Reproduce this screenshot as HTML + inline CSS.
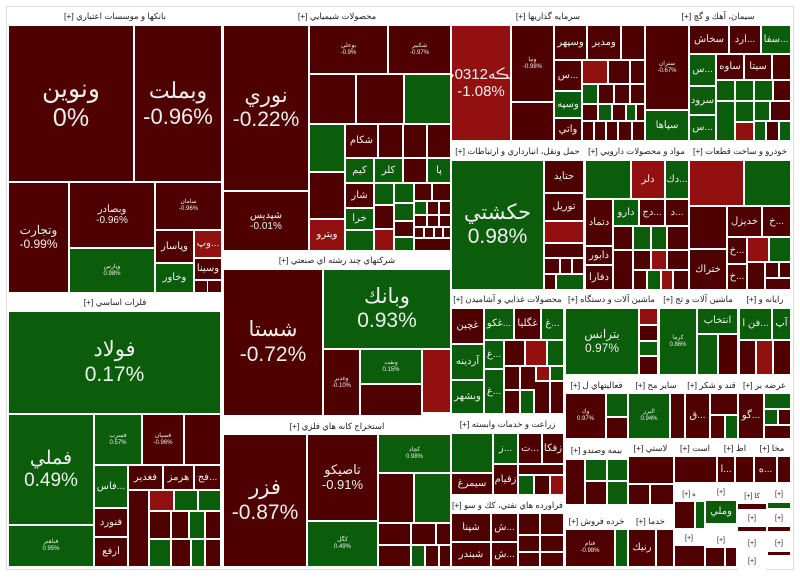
<!DOCTYPE html>
<html><head><meta charset="utf-8"><style>
body{margin:0;width:800px;height:579px;background:#fff;position:relative;overflow:hidden;font-family:"Liberation Sans","Noto Sans CJK SC",sans-serif}
.t{position:absolute;box-sizing:border-box;display:flex;flex-direction:column;align-items:center;justify-content:center;color:#eee;text-align:center;line-height:1.15;overflow:hidden;white-space:nowrap}
.r{background:#4f0000}.g{background:#0b5c0b}.b{background:#931010}
.h{position:absolute;background:#fff;color:#222;font-size:8.5px;text-align:center;line-height:17px;white-space:nowrap;overflow:hidden;direction:rtl;text-overflow:clip}
.L{font-size:25px}.M{font-size:15px}.S{font-size:10px}.X{font-size:6px}
.fr{position:absolute;border:1px solid #ddd;box-sizing:border-box}
</style></head><body>
<div class="fr" style="left:6px;top:6px;width:788px;height:564px"></div>
<!-- banks -->
<div class="h" style="left:8px;top:8px;width:214px">بانكها و موسسات اعتباري [+]</div>
<div class="t r L" style="left:9px;top:26px;width:124px;height:155px">ونوين<br>0%</div>
<div class="t r L" style="left:135px;top:26px;width:86px;height:155px;font-size:22px">وبملت<br>-0.96%</div>
<div class="t r S" style="left:9px;top:183px;width:59px;height:109px;font-size:12px">وتجارت<br>-0.99%</div>
<div class="t r S" style="left:70px;top:183px;width:84px;height:64px">وبصادر<br>-0.96%</div>
<div class="t g X" style="left:70px;top:249px;width:84px;height:43px">ويارس<br>0.98%</div>
<div class="t r X" style="left:156px;top:183px;width:65px;height:46px">سامان<br>-0.96%</div>
<div class="t r S" style="left:156px;top:231px;width:37px;height:31px">وپاسار</div>
<div class="t g S" style="left:156px;top:264px;width:37px;height:28px">وخاور</div>
<div class="t b S" style="left:195px;top:231px;width:26px;height:26px">وپ...</div>
<div class="t r S" style="left:195px;top:259px;width:26px;height:20px">وسينا</div>
<div class="t r" style="left:195px;top:281px;width:12px;height:11px"></div>
<div class="t r" style="left:208px;top:281px;width:13px;height:11px"></div>
<!-- chemicals -->
<div class="h" style="left:224px;top:8px;width:226px">محصولات شيميايي [+]</div>
<div class="t r L" style="left:224px;top:26px;width:84px;height:164px;font-size:21px">نوري<br>-0.22%</div>
<div class="t r S" style="left:224px;top:192px;width:84px;height:58px">شپديس<br>-0.01%</div>
<div class="t r X" style="left:310px;top:26px;width:77px;height:47px">بوعلي<br>-0.9%</div>
<div class="t r X" style="left:389px;top:26px;width:61px;height:47px">شكبير<br>-0.97%</div>
<div class="t r X" style="left:310px;top:75px;width:45px;height:48px"></div>
<div class="t r X" style="left:357px;top:75px;width:46px;height:48px"></div>
<div class="t g X" style="left:405px;top:75px;width:45px;height:48px"></div>
<div class="t g" style="left:310px;top:125px;width:34px;height:46px"></div>
<div class="t r S" style="left:346px;top:125px;width:31px;height:32px">شكام</div>
<div class="t r" style="left:379px;top:125px;width:23px;height:32px"></div>
<div class="t r" style="left:404px;top:125px;width:22px;height:32px"></div>
<div class="t r" style="left:428px;top:125px;width:22px;height:32px"></div>
<div class="t g S" style="left:346px;top:159px;width:27px;height:23px">كيم</div>
<div class="t g S" style="left:375px;top:159px;width:27px;height:23px">كلر</div>
<div class="t r" style="left:404px;top:159px;width:22px;height:23px"></div>
<div class="t g S" style="left:428px;top:159px;width:22px;height:23px">پا</div>
<div class="t r" style="left:310px;top:173px;width:34px;height:45px"></div>
<div class="t r S" style="left:346px;top:184px;width:27px;height:23px">شار</div>
<div class="t g S" style="left:346px;top:209px;width:27px;height:20px">خرا</div>
<div class="t g" style="left:346px;top:231px;width:27px;height:19px"></div>
<div class="t b S" style="left:310px;top:220px;width:34px;height:30px">ويترو</div>
<div class="t g" style="left:375px;top:184px;width:18px;height:20px"></div>
<div class="t r" style="left:375px;top:206px;width:18px;height:22px"></div>
<div class="t b" style="left:375px;top:230px;width:18px;height:20px"></div>
<div class="t g" style="left:395px;top:184px;width:18px;height:18px"></div>
<div class="t g" style="left:395px;top:204px;width:18px;height:16px"></div>
<div class="t r" style="left:395px;top:222px;width:18px;height:14px"></div>
<div class="t g" style="left:395px;top:238px;width:18px;height:12px"></div>
<div class="t r" style="left:415px;top:184px;width:16px;height:16px"></div>
<div class="t r" style="left:433px;top:184px;width:17px;height:16px"></div>
<div class="t g" style="left:415px;top:202px;width:11px;height:12px"></div>
<div class="t r" style="left:428px;top:202px;width:10px;height:12px"></div>
<div class="t r" style="left:440px;top:202px;width:10px;height:12px"></div>
<div class="t r" style="left:415px;top:216px;width:11px;height:10px"></div>
<div class="t r" style="left:428px;top:216px;width:10px;height:10px"></div>
<div class="t r" style="left:440px;top:216px;width:10px;height:10px"></div>
<div class="t r" style="left:415px;top:228px;width:8px;height:9px"></div>
<div class="t r" style="left:425px;top:228px;width:8px;height:9px"></div>
<div class="t r" style="left:435px;top:228px;width:7px;height:9px"></div>
<div class="t r" style="left:444px;top:228px;width:6px;height:9px"></div>
<div class="t r" style="left:415px;top:239px;width:35px;height:11px"></div>
<!-- multi -->
<div class="h" style="left:224px;top:252px;width:226px">شركتهاي چند رشته اي صنعتي [+]</div>
<div class="t r L" style="left:224px;top:270px;width:98px;height:145px;font-size:21px">شستا<br>-0.72%</div>
<div class="t g L" style="left:324px;top:270px;width:126px;height:78px;font-size:21px">وبانك<br>0.93%</div>
<div class="t r X" style="left:324px;top:350px;width:35px;height:65px">وغدير<br>-0.10%</div>
<div class="t g X" style="left:361px;top:350px;width:60px;height:33px">ونفت<br>0.15%</div>
<div class="t r X" style="left:361px;top:385px;width:60px;height:30px"></div>
<div class="t b X" style="left:423px;top:350px;width:27px;height:62px"></div>
<!-- metals -->
<div class="h" style="left:8px;top:294px;width:214px">فلزات اساسي [+]</div>
<div class="t g L" style="left:9px;top:312px;width:211px;height:101px;font-size:21px">فولاد<br>0.17%</div>
<div class="t g L" style="left:9px;top:415px;width:84px;height:109px;font-size:19px">فملي<br>0.49%</div>
<div class="t g X" style="left:9px;top:526px;width:84px;height:40px">فباهنر<br>0.95%</div>
<div class="t g X" style="left:95px;top:415px;width:46px;height:49px">فسرب<br>0.57%</div>
<div class="t r X" style="left:143px;top:415px;width:40px;height:49px">فسپان<br>-0.96%</div>
<div class="t r X" style="left:185px;top:415px;width:35px;height:49px"></div>
<div class="t g S" style="left:95px;top:466px;width:32px;height:41px">فاس...</div>
<div class="t r S" style="left:129px;top:466px;width:33px;height:23px">فغدير</div>
<div class="t r S" style="left:164px;top:466px;width:29px;height:23px">هرمز</div>
<div class="t r S" style="left:195px;top:466px;width:25px;height:23px">فج...</div>
<div class="t r S" style="left:95px;top:509px;width:32px;height:27px">فنورد</div>
<div class="t r S" style="left:95px;top:538px;width:32px;height:28px">ارفع</div>
<div class="t r" style="left:129px;top:491px;width:19px;height:75px"></div>
<div class="t b" style="left:150px;top:491px;width:23px;height:19px"></div>
<div class="t g" style="left:175px;top:491px;width:22px;height:19px"></div>
<div class="t g" style="left:199px;top:491px;width:21px;height:19px"></div>
<div class="t r" style="left:150px;top:512px;width:20px;height:26px"></div>
<div class="t r" style="left:172px;top:512px;width:16px;height:26px"></div>
<div class="t g" style="left:190px;top:512px;width:14px;height:26px"></div>
<div class="t r" style="left:206px;top:512px;width:14px;height:26px"></div>
<div class="t g" style="left:150px;top:540px;width:20px;height:26px"></div>
<div class="t r" style="left:172px;top:540px;width:18px;height:26px"></div>
<div class="t g" style="left:192px;top:540px;width:12px;height:26px"></div>
<div class="t r" style="left:206px;top:540px;width:14px;height:26px"></div>
<!-- mining -->
<div class="h" style="left:224px;top:418px;width:226px">استخراج كانه هاي فلزي [+]</div>
<div class="t r L" style="left:224px;top:435px;width:82px;height:131px;font-size:21px">فزر<br>-0.87%</div>
<div class="t r M" style="left:308px;top:435px;width:69px;height:85px;font-size:13px">تاصيكو<br>-0.91%</div>
<div class="t g X" style="left:308px;top:522px;width:69px;height:44px">كگل<br>0.49%</div>
<div class="t g X" style="left:379px;top:435px;width:71px;height:37px">كچاد<br>0.98%</div>
<div class="t r X" style="left:379px;top:474px;width:34px;height:48px"></div>
<div class="t g X" style="left:415px;top:474px;width:35px;height:48px"></div>
<div class="t r" style="left:379px;top:524px;width:31px;height:20px"></div>
<div class="t r" style="left:412px;top:524px;width:23px;height:20px"></div>
<div class="t r" style="left:437px;top:524px;width:13px;height:20px"></div>
<div class="t r" style="left:379px;top:546px;width:31px;height:20px"></div>
<div class="t g" style="left:412px;top:546px;width:12px;height:20px"></div>
<div class="t r" style="left:426px;top:546px;width:12px;height:20px"></div>
<div class="t r" style="left:440px;top:546px;width:10px;height:20px"></div>
<!-- investment -->
<div class="h" style="left:452px;top:8px;width:192px">سرمايه گذاريها [+]</div>
<div class="t b M" style="left:452px;top:26px;width:58px;height:114px">سڪه0312پ<br>-1.08%</div>
<div class="t r X" style="left:512px;top:26px;width:41px;height:75px">ونيا<br>-0.98%</div>
<div class="t r X" style="left:512px;top:103px;width:41px;height:37px"></div>
<div class="t r S" style="left:555px;top:26px;width:31px;height:33px">وسپهر</div>
<div class="t r S" style="left:588px;top:26px;width:32px;height:33px">ومدير</div>
<div class="t r" style="left:622px;top:26px;width:22px;height:33px"></div>
<div class="t r S" style="left:555px;top:61px;width:26px;height:29px">س...</div>
<div class="t b" style="left:583px;top:61px;width:24px;height:22px"></div>
<div class="t r" style="left:609px;top:61px;width:20px;height:22px"></div>
<div class="t r" style="left:631px;top:61px;width:13px;height:22px"></div>
<div class="t g S" style="left:555px;top:92px;width:26px;height:25px">وسپه</div>
<div class="t r S" style="left:555px;top:119px;width:26px;height:21px">واتي</div>
<div class="t g" style="left:583px;top:85px;width:14px;height:18px"></div>
<div class="t r" style="left:599px;top:85px;width:14px;height:18px"></div>
<div class="t r" style="left:615px;top:85px;width:14px;height:18px"></div>
<div class="t r" style="left:631px;top:85px;width:13px;height:18px"></div>
<div class="t r" style="left:583px;top:105px;width:14px;height:15px"></div>
<div class="t g" style="left:599px;top:105px;width:12px;height:15px"></div>
<div class="t r" style="left:613px;top:105px;width:12px;height:15px"></div>
<div class="t g" style="left:627px;top:105px;width:8px;height:15px"></div>
<div class="t r" style="left:637px;top:105px;width:7px;height:15px"></div>
<div class="t r" style="left:583px;top:122px;width:10px;height:18px"></div>
<div class="t r" style="left:595px;top:122px;width:10px;height:18px"></div>
<div class="t r" style="left:607px;top:122px;width:10px;height:18px"></div>
<div class="t r" style="left:619px;top:122px;width:12px;height:18px"></div>
<div class="t r" style="left:633px;top:122px;width:11px;height:18px"></div>
<!-- cement -->
<div class="h" style="left:646px;top:8px;width:144px">سيمان، آهك و گچ [+]</div>
<div class="t r X" style="left:646px;top:26px;width:42px;height:83px">ستران<br>-0.67%</div>
<div class="t g S" style="left:646px;top:111px;width:42px;height:29px">سپاها</div>
<div class="t r S" style="left:690px;top:26px;width:38px;height:27px">سخاش</div>
<div class="t r S" style="left:730px;top:26px;width:30px;height:27px">ارد...</div>
<div class="t g S" style="left:762px;top:26px;width:28px;height:27px">سفا...</div>
<div class="t g S" style="left:690px;top:55px;width:25px;height:30px">س...</div>
<div class="t g S" style="left:690px;top:87px;width:25px;height:27px">سرود</div>
<div class="t g S" style="left:690px;top:116px;width:25px;height:24px">س...</div>
<div class="t r S" style="left:717px;top:55px;width:26px;height:24px">ساوه</div>
<div class="t r S" style="left:745px;top:55px;width:26px;height:24px">سيتا</div>
<div class="t r" style="left:773px;top:55px;width:17px;height:24px"></div>
<div class="t g" style="left:717px;top:81px;width:17px;height:19px"></div>
<div class="t g" style="left:736px;top:81px;width:17px;height:19px"></div>
<div class="t g" style="left:755px;top:81px;width:17px;height:19px"></div>
<div class="t r" style="left:774px;top:81px;width:16px;height:19px"></div>
<div class="t g" style="left:717px;top:102px;width:17px;height:38px"></div>
<div class="t g" style="left:736px;top:102px;width:17px;height:19px"></div>
<div class="t b" style="left:736px;top:123px;width:17px;height:17px"></div>
<div class="t g" style="left:755px;top:102px;width:14px;height:18px"></div>
<div class="t r" style="left:771px;top:102px;width:19px;height:18px"></div>
<div class="t g" style="left:755px;top:122px;width:10px;height:18px"></div>
<div class="t r" style="left:767px;top:122px;width:11px;height:18px"></div>
<div class="t g" style="left:780px;top:122px;width:10px;height:18px"></div>
<!-- transport -->
<div class="h" style="left:452px;top:143px;width:131px">حمل ونقل، انبارداري و ارتباطات [+]</div>
<div class="t g L" style="left:452px;top:161px;width:91px;height:128px;font-size:21px">حكشتي<br>0.98%</div>
<div class="t r S" style="left:545px;top:161px;width:38px;height:31px">حتايد</div>
<div class="t r S" style="left:545px;top:194px;width:38px;height:26px">توريل</div>
<div class="t b" style="left:545px;top:222px;width:38px;height:20px"></div>
<div class="t r" style="left:545px;top:244px;width:38px;height:13px"></div>
<div class="t r" style="left:545px;top:259px;width:14px;height:14px"></div>
<div class="t r" style="left:561px;top:259px;width:10px;height:14px"></div>
<div class="t r" style="left:573px;top:259px;width:10px;height:14px"></div>
<div class="t r" style="left:545px;top:275px;width:10px;height:14px"></div>
<div class="t g" style="left:557px;top:275px;width:26px;height:14px"></div>
<!-- pharma -->
<div class="h" style="left:585px;top:143px;width:103px">مواد و محصولات دارويي [+]</div>
<div class="t g X" style="left:586px;top:161px;width:44px;height:37px"></div>
<div class="t b S" style="left:632px;top:161px;width:32px;height:37px">دلر</div>
<div class="t g S" style="left:666px;top:161px;width:22px;height:37px">دك...</div>
<div class="t r S" style="left:586px;top:200px;width:26px;height:45px">دتماد</div>
<div class="t g S" style="left:614px;top:200px;width:24px;height:25px">دارو</div>
<div class="t r S" style="left:640px;top:200px;width:24px;height:25px">دج...</div>
<div class="t r S" style="left:666px;top:200px;width:22px;height:25px">د...</div>
<div class="t r S" style="left:586px;top:247px;width:26px;height:17px">دابور</div>
<div class="t r S" style="left:586px;top:266px;width:26px;height:23px">دفارا</div>
<div class="t r" style="left:614px;top:227px;width:18px;height:22px"></div>
<div class="t g" style="left:634px;top:227px;width:16px;height:22px"></div>
<div class="t g" style="left:652px;top:227px;width:14px;height:22px"></div>
<div class="t r" style="left:668px;top:227px;width:20px;height:22px"></div>
<div class="t r" style="left:614px;top:251px;width:18px;height:38px"></div>
<div class="t r" style="left:634px;top:251px;width:16px;height:18px"></div>
<div class="t b" style="left:652px;top:251px;width:14px;height:18px"></div>
<div class="t r" style="left:668px;top:251px;width:20px;height:18px"></div>
<div class="t r" style="left:634px;top:271px;width:12px;height:18px"></div>
<div class="t g" style="left:648px;top:271px;width:12px;height:18px"></div>
<div class="t b" style="left:662px;top:271px;width:10px;height:18px"></div>
<div class="t r" style="left:674px;top:271px;width:14px;height:18px"></div>
<!-- auto -->
<div class="h" style="left:690px;top:143px;width:100px">خودرو و ساخت قطعات [+]</div>
<div class="t b X" style="left:690px;top:161px;width:53px;height:44px"></div>
<div class="t g X" style="left:745px;top:161px;width:45px;height:44px"></div>
<div class="t r X" style="left:690px;top:207px;width:36px;height:41px"></div>
<div class="t r S" style="left:690px;top:250px;width:36px;height:39px">ختراك</div>
<div class="t r S" style="left:728px;top:207px;width:33px;height:29px">خديزل</div>
<div class="t r S" style="left:763px;top:207px;width:27px;height:29px">خ...</div>
<div class="t r S" style="left:728px;top:238px;width:18px;height:25px">خ...</div>
<div class="t r S" style="left:728px;top:265px;width:18px;height:24px">خ...</div>
<div class="t b" style="left:748px;top:238px;width:20px;height:23px"></div>
<div class="t g" style="left:770px;top:238px;width:20px;height:23px"></div>
<div class="t r" style="left:748px;top:263px;width:16px;height:26px"></div>
<div class="t r" style="left:766px;top:263px;width:12px;height:14px"></div>
<div class="t r" style="left:780px;top:263px;width:10px;height:14px"></div>
<div class="t r" style="left:766px;top:279px;width:24px;height:10px"></div>
<!-- food -->
<div class="h" style="left:452px;top:291px;width:111px">محصولات غذايي و آشاميدن [+]</div>
<div class="t r S" style="left:452px;top:309px;width:31px;height:34px">غچين</div>
<div class="t g S" style="left:452px;top:345px;width:31px;height:34px">آردينه</div>
<div class="t g S" style="left:452px;top:381px;width:31px;height:32px">وبشهر</div>
<div class="t g S" style="left:485px;top:309px;width:28px;height:30px">غكو...</div>
<div class="t r S" style="left:515px;top:309px;width:25px;height:30px">غگليا</div>
<div class="t g S" style="left:542px;top:309px;width:21px;height:30px">غ...</div>
<div class="t g S" style="left:485px;top:341px;width:18px;height:27px">غ...</div>
<div class="t g S" style="left:485px;top:370px;width:18px;height:43px">غ...</div>
<div class="t r" style="left:505px;top:341px;width:19px;height:24px"></div>
<div class="t b" style="left:526px;top:341px;width:20px;height:24px"></div>
<div class="t g" style="left:548px;top:341px;width:15px;height:24px"></div>
<div class="t r" style="left:505px;top:367px;width:14px;height:22px"></div>
<div class="t r" style="left:521px;top:367px;width:14px;height:22px"></div>
<div class="t b" style="left:537px;top:367px;width:12px;height:13px"></div>
<div class="t g" style="left:551px;top:367px;width:12px;height:13px"></div>
<div class="t r" style="left:505px;top:391px;width:14px;height:22px"></div>
<div class="t g" style="left:521px;top:391px;width:12px;height:22px"></div>
<div class="t r" style="left:535px;top:382px;width:14px;height:31px"></div>
<div class="t r" style="left:551px;top:382px;width:12px;height:31px"></div>
<!-- machinery -->
<div class="h" style="left:566px;top:291px;width:91px">ماشين آلات و دستگاه [+]</div>
<div class="t g M" style="left:566px;top:309px;width:72px;height:65px;font-size:12px">بترانس<br>0.97%</div>
<div class="t b" style="left:640px;top:309px;width:17px;height:15px"></div>
<div class="t r" style="left:640px;top:326px;width:17px;height:14px"></div>
<div class="t g" style="left:640px;top:342px;width:17px;height:13px"></div>
<div class="t r" style="left:640px;top:357px;width:17px;height:17px"></div>
<div class="h" style="left:659px;top:291px;width:78px">ماشين آلات و تج [+]</div>
<div class="t g X" style="left:660px;top:309px;width:36px;height:65px">كرما<br>0.86%</div>
<div class="t g S" style="left:698px;top:309px;width:39px;height:24px">انتخاب</div>
<div class="t g" style="left:698px;top:335px;width:19px;height:39px"></div>
<div class="t r" style="left:719px;top:335px;width:18px;height:39px"></div>
<div class="h" style="left:740px;top:291px;width:50px">رايانه و [+]</div>
<div class="t g S" style="left:740px;top:309px;width:31px;height:30px">فن ا...</div>
<div class="t g S" style="left:773px;top:309px;width:17px;height:30px">آپ</div>
<div class="t r" style="left:740px;top:341px;width:15px;height:33px"></div>
<div class="t b" style="left:757px;top:341px;width:15px;height:33px"></div>
<div class="t r" style="left:774px;top:341px;width:16px;height:33px"></div>
<!-- row 2 small -->
<div class="h" style="left:566px;top:377px;width:61px">فعاليتهاي ل [+]</div>
<div class="t r X" style="left:566px;top:394px;width:39px;height:44px">وك<br>0.97%</div>
<div class="t g" style="left:607px;top:394px;width:20px;height:22px"></div>
<div class="t r" style="left:607px;top:418px;width:20px;height:20px"></div>
<div class="h" style="left:628px;top:377px;width:56px">ساير مح [+]</div>
<div class="t g X" style="left:629px;top:394px;width:40px;height:44px">البرز<br>0.94%</div>
<div class="t r" style="left:671px;top:394px;width:13px;height:44px"></div>
<div class="h" style="left:686px;top:377px;width:51px">قند و شكر [+]</div>
<div class="t r S" style="left:686px;top:394px;width:23px;height:44px">ق...</div>
<div class="t r" style="left:711px;top:394px;width:26px;height:20px"></div>
<div class="t r" style="left:711px;top:416px;width:13px;height:22px"></div>
<div class="t g" style="left:726px;top:416px;width:11px;height:22px"></div>
<div class="h" style="left:739px;top:377px;width:51px">عرضه بر [+]</div>
<div class="t r S" style="left:739px;top:394px;width:24px;height:44px">گو...</div>
<div class="t g" style="left:765px;top:394px;width:25px;height:14px"></div>
<div class="t g" style="left:765px;top:410px;width:12px;height:14px"></div>
<div class="t r" style="left:779px;top:410px;width:11px;height:14px"></div>
<div class="t r" style="left:765px;top:426px;width:25px;height:12px"></div>
<!-- agri -->
<div class="h" style="left:452px;top:416px;width:111px">زراعت و خدمات وابسته [+]</div>
<div class="t g X" style="left:452px;top:434px;width:40px;height:38px"></div>
<div class="t r S" style="left:452px;top:474px;width:40px;height:20px">سيمرغ</div>
<div class="t g S" style="left:494px;top:434px;width:23px;height:29px">ز...</div>
<div class="t r S" style="left:494px;top:465px;width:23px;height:29px">زقيام</div>
<div class="t r S" style="left:519px;top:434px;width:22px;height:29px">ت...</div>
<div class="t r S" style="left:543px;top:434px;width:20px;height:29px">زفكا</div>
<div class="t r" style="left:519px;top:465px;width:44px;height:9px"></div>
<div class="t g" style="left:519px;top:476px;width:14px;height:18px"></div>
<div class="t r" style="left:535px;top:476px;width:14px;height:18px"></div>
<div class="t b" style="left:551px;top:476px;width:12px;height:18px"></div>
<!-- bime row -->
<div class="h" style="left:566px;top:442px;width:61px">بيمه وصندو [+]</div>
<div class="t r" style="left:566px;top:460px;width:18px;height:44px"></div>
<div class="t g" style="left:586px;top:460px;width:20px;height:20px"></div>
<div class="t g" style="left:608px;top:460px;width:19px;height:20px"></div>
<div class="t r" style="left:586px;top:482px;width:20px;height:22px"></div>
<div class="t g" style="left:608px;top:482px;width:19px;height:22px"></div>
<div class="h" style="left:628px;top:440px;width:45px">لاستي [+]</div>
<div class="t r X" style="left:629px;top:457px;width:44px;height:26px"></div>
<div class="t r" style="left:629px;top:485px;width:20px;height:19px"></div>
<div class="t r" style="left:651px;top:485px;width:22px;height:19px"></div>
<div class="h" style="left:674px;top:440px;width:42px">است [+]</div>
<div class="t r" style="left:675px;top:457px;width:41px;height:25px"></div>
<div class="h" style="left:717px;top:440px;width:36px">اط [+]</div>
<div class="t r S" style="left:718px;top:457px;width:16px;height:25px">ا...</div>
<div class="t r" style="left:736px;top:457px;width:17px;height:25px"></div>
<div class="h" style="left:754px;top:440px;width:36px">مخا [+]</div>
<div class="t r S" style="left:755px;top:457px;width:21px;height:25px">ه...</div>
<div class="t r" style="left:778px;top:457px;width:12px;height:25px"></div>
<!-- bottom small -->
<div class="h" style="left:674px;top:486px;width:30px;font-size:7px">ه [+]</div>
<div class="t r" style="left:675px;top:502px;width:19px;height:26px"></div>
<div class="t g" style="left:696px;top:502px;width:8px;height:26px"></div>
<div class="h" style="left:706px;top:484px;width:30px;font-size:7px">[+]</div>
<div class="t g S" style="left:706px;top:501px;width:30px;height:22px">وملي</div>
<div class="h" style="left:738px;top:488px;width:28px;font-size:7px">كا [+]</div>
<div class="t r" style="left:738px;top:504px;width:28px;height:5px"></div>
<div class="h" style="left:768px;top:486px;width:22px;font-size:7px">[+]</div>
<div class="t g" style="left:768px;top:503px;width:22px;height:5px"></div>
<div class="h" style="left:738px;top:510px;width:28px;font-size:7px">[+]</div>
<div class="t r" style="left:738px;top:527px;width:28px;height:4px"></div>
<div class="h" style="left:768px;top:510px;width:22px;font-size:7px">[+]</div>
<div class="t r" style="left:768px;top:527px;width:22px;height:4px"></div>
<div class="h" style="left:674px;top:530px;width:30px;font-size:7px">[+]</div>
<div class="t r" style="left:675px;top:546px;width:29px;height:20px"></div>
<div class="h" style="left:706px;top:532px;width:30px;font-size:7px">[+]</div>
<div class="t r" style="left:706px;top:548px;width:18px;height:18px"></div>
<div class="t r" style="left:726px;top:548px;width:10px;height:18px"></div>
<div class="h" style="left:738px;top:535px;width:28px;font-size:7px">[+]</div>
<div class="h" style="left:738px;top:553px;width:28px;font-size:7px">[+]</div>
<div class="h" style="left:768px;top:535px;width:22px;font-size:7px">[+]</div>
<div class="t r" style="left:768px;top:552px;width:22px;height:3px"></div>
<!-- petroleum -->
<div class="h" style="left:452px;top:497px;width:111px">فراورده هاي نفتي، كك و سو [+]</div>
<div class="t r S" style="left:452px;top:514px;width:38px;height:27px">شپنا</div>
<div class="t r S" style="left:452px;top:543px;width:38px;height:23px">شبندر</div>
<div class="t r S" style="left:492px;top:514px;width:25px;height:27px">ش...</div>
<div class="t r S" style="left:492px;top:543px;width:25px;height:23px">ش...</div>
<div class="t r" style="left:519px;top:514px;width:20px;height:20px"></div>
<div class="t r" style="left:541px;top:514px;width:22px;height:20px"></div>
<div class="t r" style="left:519px;top:536px;width:20px;height:15px"></div>
<div class="t r" style="left:541px;top:536px;width:22px;height:15px"></div>
<div class="t r" style="left:519px;top:553px;width:20px;height:13px"></div>
<div class="t r" style="left:541px;top:553px;width:22px;height:13px"></div>
<!-- retail -->
<div class="h" style="left:566px;top:513px;width:61px">خرده فروش [+]</div>
<div class="t r X" style="left:566px;top:530px;width:48px;height:36px">فتام<br>-0.98%</div>
<div class="t g" style="left:616px;top:530px;width:11px;height:36px"></div>
<div class="h" style="left:628px;top:513px;width:45px">خدما [+]</div>
<div class="t r S" style="left:629px;top:530px;width:26px;height:36px">رنيك</div>
<div class="t r" style="left:657px;top:530px;width:16px;height:36px"></div>
</body></html>
